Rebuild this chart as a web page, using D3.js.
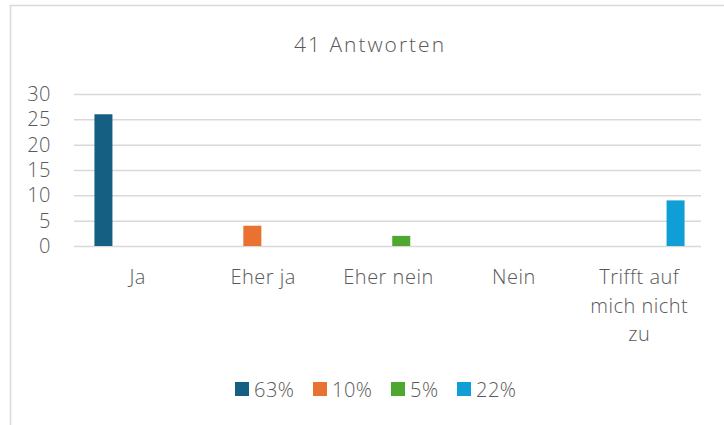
<!DOCTYPE html>
<html>
<head>
<meta charset="utf-8">
<script src="https://cdn.jsdelivr.net/npm/d3@7"></script>
<style>
  body { margin: 0; background: #fff; }
  text { font-family: "Open Sans", sans-serif; fill: #595959; font-weight: 300; }
</style>
</head>
<body>
<div id="chart"></div>
<script>
// values (41 answers in total)
const categories = ["Ja", "Eher ja", "Eher nein", "Nein", "Trifft auf mich nicht zu"];
const seriesNames = ["63%", "10%", "5%", "22%"];
const seriesColors = ["#156082", "#E97132", "#4EA72E", "#0F9ED5"];
const values63 = [26, 0, 0, 0, 0];
const values10 = [0, 4, 0, 0, 0];
const values5 = [0, 0, 2, 0, 0];
const values22 = [0, 0, 0, 0, 9];
const yTicks = [0, 5, 10, 15, 20, 25, 30];
const title = "41 Antworten";

const seriesValues = [values63, values10, values5, values22];

const width = 724,
  height = 425;
const margin = { top: 94, left: 74, right: 23, bottom: 179 };

const svg = d3
  .select("#chart")
  .append("svg")
  .attr("width", width)
  .attr("height", height);

// chart frame
svg
  .append("path")
  .attr("d", `M10.5,${height} V5.5 H${width}`)
  .attr("fill", "none")
  .attr("stroke", "#d9d9d9")
  .attr("stroke-width", 1.5);

svg
  .append("text")
  .attr("x", 370)
  .attr("y", 52)
  .attr("text-anchor", "middle")
  .style("font-size", "21px")
  .style("letter-spacing", "2px")
  .text(title);

const x0 = d3
  .scaleBand()
  .domain(categories)
  .range([margin.left, width - margin.right])
  .paddingInner(0.294)
  .paddingOuter(0.147);

const x1 = d3
  .scaleBand()
  .domain(seriesNames)
  .range([0, x0.bandwidth()])
  .paddingInner(0.234);

const y = d3
  .scaleLinear()
  .domain([0, 30])
  .range([height - margin.bottom, margin.top]);

// gridlines + y labels
const yAxis = svg
  .append("g")
  .attr("transform", `translate(${margin.left},0)`)
  .call(
    d3
      .axisLeft(y)
      .tickValues(yTicks)
      .tickSize(-(width - margin.left - margin.right))
      .tickPadding(23)
  );
yAxis.select(".domain").remove();
yAxis.selectAll("line").attr("stroke", "#d9d9d9").attr("stroke-width", 1.5);
yAxis
  .selectAll("text")
  .style("font-size", "20px")
  .style("letter-spacing", "0.5px")
  .style("fill", "#595959")
  .style("font-family", "'Open Sans', sans-serif");

// bars
svg
  .append("g")
  .attr("transform", "translate(2,0)")
  .selectAll("g")
  .data(seriesNames)
  .join("g")
  .attr("fill", (d, i) => seriesColors[i])
  .selectAll("rect")
  .data((s, i) => categories.map((c, j) => ({ c, s, v: seriesValues[i][j] })))
  .join("rect")
  .attr("x", (d) => x0(d.c) + x1(d.s))
  .attr("width", x1.bandwidth())
  .attr("y", (d) => y(d.v))
  .attr("height", (d) => y(0) - y(d.v));

// category labels, wrapped like the original
function wrap(textSel, maxWidth) {
  textSel.each(function () {
    const text = d3.select(this);
    const words = text.text().split(/\s+/);
    const xPos = text.attr("x");
    text.text(null);
    let line = [];
    let tspan = text.append("tspan").attr("x", xPos).attr("dy", 0);
    words.forEach((w) => {
      line.push(w);
      tspan.text(line.join(" "));
      if (tspan.node().getComputedTextLength() > maxWidth && line.length > 1) {
        line.pop();
        tspan.text(line.join(" "));
        line = [w];
        tspan = text.append("tspan").attr("x", xPos).attr("dy", "1.43em").text(w);
      }
    });
  });
}

svg
  .append("g")
  .selectAll("text")
  .data(categories)
  .join("text")
  .attr("x", (d) => x0(d) + x0.bandwidth() / 2 + 1)
  .attr("y", 284)
  .attr("text-anchor", "middle")
  .style("font-size", "20px")
  .style("letter-spacing", "0.5px")
  .text((d) => d)
  .call(wrap, 105);

// legend
const legendX = [235, 313, 391, 457];
const legend = svg
  .append("g")
  .selectAll("g")
  .data(seriesNames)
  .join("g")
  .attr("transform", (d, i) => `translate(${legendX[i]},382)`);
legend
  .append("rect")
  .attr("width", 14)
  .attr("height", 14)
  .attr("fill", (d, i) => seriesColors[i]);
legend
  .append("text")
  .attr("x", 19)
  .attr("y", 14.5)
  .style("font-size", "20px")
  .style("letter-spacing", "0.5px")
  .text((d) => d);
</script>
</body>
</html>
